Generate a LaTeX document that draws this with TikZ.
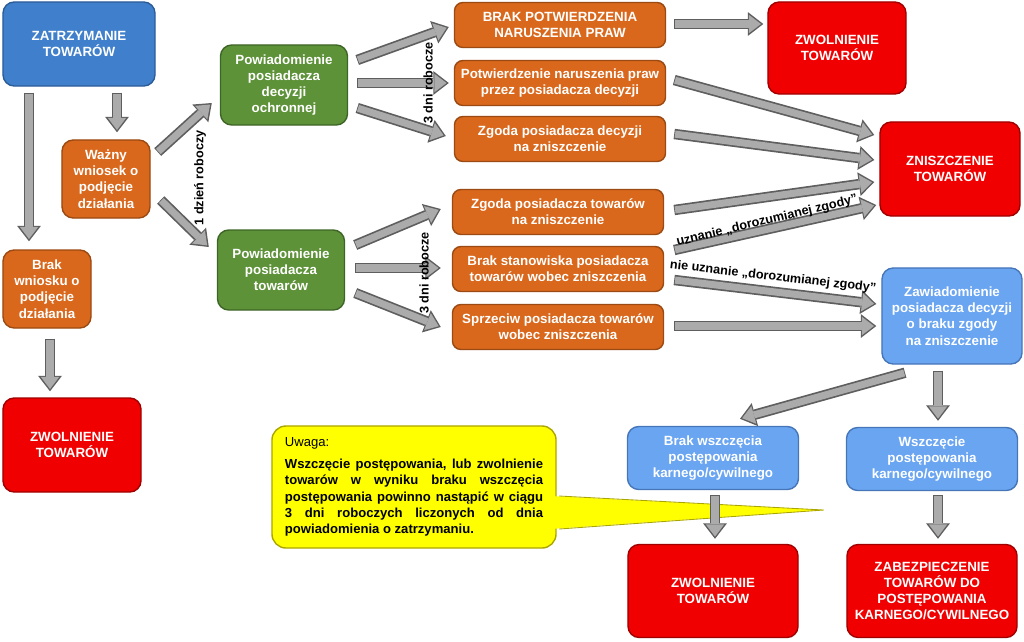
\documentclass[tikz,border=0pt]{standalone}
\usepackage{fontspec}
\setmainfont{Liberation Sans}
\usetikzlibrary{arrows.meta}
\definecolor{zblue}{HTML}{3F7FCB}
\definecolor{zbluedk}{HTML}{2C5C98}
\definecolor{zlight}{HTML}{6AA5F2}
\definecolor{zlightdk}{HTML}{4676B8}
\definecolor{zorange}{HTML}{D9681C}
\definecolor{zorangedk}{HTML}{9A4A12}
\definecolor{zgreen}{HTML}{5E9239}
\definecolor{zgreendk}{HTML}{3D6526}
\definecolor{zred}{HTML}{F00000}
\definecolor{zreddk}{HTML}{A00000}
\definecolor{zyellow}{HTML}{FFFF00}
\definecolor{zyellowdk}{HTML}{ABA500}
\definecolor{zgrey}{HTML}{ABABAB}
\definecolor{zgreydk}{HTML}{5E5E5E}

\begin{document}
\begin{tikzpicture}[x=0.025cm,y=-0.025cm,
  box/.style={rounded corners=8pt,line width=1pt,align=center,text=white,
    font=\bfseries\fontsize{9.5}{11.5}\selectfont,inner sep=2pt},
  bluebox/.style={box,fill=zblue,draw=zbluedk},
  lightbox/.style={box,fill=zlight,draw=zlightdk},
  orangebox/.style={box,fill=zorange,draw=zorangedk},
  greenbox/.style={box,fill=zgreen,draw=zgreendk},
  redbox/.style={box,fill=zred,draw=zreddk},
  widebox/.style={orangebox,rounded corners=6pt,minimum width=5.275cm,minimum height=1.125cm},
  smallbox/.style={orangebox,minimum width=2.2cm,minimum height=1.95cm},
  garrow/.style={
    preaction={draw=zgreydk,line width=7.4pt,shorten >=0pt,shorten <=0pt,
      -{Triangle[length=11pt,width=17pt,line width=0pt]}},
    draw=zgrey,line width=5pt,shorten >=1.6pt,shorten <=0.6pt,
    -{Triangle[length=8.6pt,width=13pt,line width=0pt]}},
  lab/.style={font=\bfseries\fontsize{9}{11}\selectfont,inner sep=1pt}]
  \useasboundingbox (0,0) rectangle (1024,641);

  % note with pointer
  \node[draw=zyellowdk,fill=zyellow,line width=1pt,rounded corners=10pt,
    minimum width=7.1cm,minimum height=3.05cm,text width=6.45cm,align=justify,
    font=\bfseries\fontsize{9.3}{11.5}\selectfont] (note) at (414,487)
    {{\mdseries Uwaga:}\\[4pt]
     Wszczęcie postępowania, lub zwolnienie\linebreak
     towarów w wyniku braku wszczęcia\linebreak
     postępowania powinno nastąpić w ciągu\linebreak
     3 dni roboczych liczonych od dnia\linebreak
     powiadomienia o zatrzymaniu.};
  \coordinate (wa) at ([shift={(-6,9)}]note.east);
  \coordinate (wtip) at ([shift={(267,23)}]note.east);
  \coordinate (wb) at ([shift={(-6,42)}]note.east);
  \fill[zyellow] (wa) -- (wtip) -- (wb) -- cycle;
  \draw[zyellowdk,line width=0.6pt] ([xshift=6]wa) -- (wtip) -- ([xshift=6]wb);

  % boxes
  \node[bluebox,minimum width=3.8cm,minimum height=2.1cm] (zt) at (79,44) {ZATRZYMANIE\\TOWARÓW};
  \node[smallbox] (wz) at (106,179) {Ważny\\wniosek o\\podjęcie\\działania};
  \node[smallbox] (bw) at (47,289) {Brak\\wniosku o\\podjęcie\\działania};
  \node[redbox,minimum width=3.45cm,minimum height=2.35cm] (zl) at (72,445) {ZWOLNIENIE\\TOWARÓW};

  \node[greenbox,minimum width=3.175cm,minimum height=2cm] (pd) at (284,85) {Powiadomienie\\posiadacza\\decyzji\\ochronnej};
  \node[greenbox,minimum width=3.175cm,minimum height=2cm] (pt) at (281,270) {Powiadomienie\\posiadacza\\towarów};

  \node[widebox] (bp) at (560,25) {BRAK POTWIERDZENIA\\NARUSZENIA PRAW};
  \node[widebox] (pn) at (560,83) {Potwierdzenie naruszenia praw\\przez posiadacza decyzji};
  \node[widebox] (zd) at (560,139) {Zgoda posiadacza decyzji\\na zniszczenie};
  \node[widebox] (zg) at (558,212) {Zgoda posiadacza towarów\\na zniszczenie};
  \node[widebox] (bs) at (558,269) {Brak stanowiska posiadacza\\towarów wobec zniszczenia};
  \node[widebox] (sp) at (558,327) {Sprzeciw posiadacza towarów\\wobec zniszczenia};

  \node[redbox,minimum width=3.45cm,minimum height=2.3cm] (zr) at (837,48) {ZWOLNIENIE\\TOWARÓW};
  \node[redbox,minimum width=3.5cm,minimum height=2.35cm] (zn) at (950,169) {ZNISZCZENIE\\TOWARÓW};
  \node[lightbox,minimum width=3.5cm,minimum height=2.4cm] (zw) at (952,316) {Zawiadomienie\\posiadacza decyzji\\o braku zgody\\na zniszczenie};

  \node[lightbox,minimum width=4.275cm,minimum height=1.575cm] (bk) at (713,458) {Brak wszczęcia\\postępowania\\karnego/cywilnego};
  \node[lightbox,minimum width=4.275cm,minimum height=1.575cm] (ws) at (932,459) {Wszczęcie\\postępowania\\karnego/cywilnego};
  \node[redbox,minimum width=4.25cm,minimum height=2.325cm] (zb) at (713,591) {ZWOLNIENIE\\TOWARÓW};
  \node[redbox,minimum width=4.25cm,minimum height=2.325cm] (zc) at (932,591) {ZABEZPIECZENIE\\TOWARÓW DO\\POSTĘPOWANIA\\KARNEGO/CYWILNEGO};

  % arrows
  \draw[garrow] ([shift={(38,6)}]zt.south) -- ([shift={(11,-7)}]wz.north);
  \draw[garrow] ([shift={(-50,6)}]zt.south) -- ([shift={(-18,-8)}]bw.north);
  \draw[garrow] ([shift={(7,-27)}]wz.east) -- ([shift={(-8,18)}]pd.west);
  \draw[garrow] ([shift={(10,21)}]wz.east) -- ([shift={(-8,-23)}]pt.west);
  \draw[garrow] ([shift={(3,10)}]bw.south) -- ([shift={(-22,-6)}]zl.north);

  \draw[garrow] ([shift={(9,-25)}]pd.east) -- ([shift={(-5,2)}]bp.west);
  \draw[garrow] ([shift={(9,-2)}]pd.east) -- ([shift={(-5,0)}]pn.west);
  \draw[garrow] ([shift={(9,23)}]pd.east) -- ([shift={(-8,-3)}]zd.west);
  \draw[garrow] ([shift={(10,-25)}]pt.east) -- ([shift={(-11,-3)}]zg.west);
  \draw[garrow] ([shift={(10,-2)}]pt.east) -- ([shift={(-11,-1)}]bs.west);
  \draw[garrow] ([shift={(10,23)}]pt.east) -- ([shift={(-11,0)}]sp.west);

  \draw[garrow] ([shift={(8,-1)}]bp.east) -- ([shift={(-4,-24)}]zr.west);
  \draw[garrow] ([shift={(8,-3)}]pn.east) -- ([shift={(-5,-34)}]zn.west);
  \draw[garrow] ([shift={(8,-5)}]zd.east) -- ([shift={(-5,-9)}]zn.west);
  \draw[garrow] ([shift={(10,-2)}]zg.east) -- ([shift={(-5,13)}]zn.west);
  \draw[garrow] ([shift={(10,-19)}]bs.east) -- ([shift={(-3,36)}]zn.west);
  \draw[garrow] ([shift={(10,11)}]bs.east) -- ([shift={(-5,-12)}]zw.west);
  \draw[garrow] ([shift={(10,-1)}]sp.east) -- ([shift={(-5,10)}]zw.west);

  \draw[garrow] ([shift={(-47,8)}]zw.south) -- ([shift={(27,-7)}]bk.north);
  \draw[garrow] ([shift={(-14,6)}]zw.south) -- ([shift={(6,-6)}]ws.north);
  \draw[garrow] ([shift={(2,5)}]bk.south) -- ([shift={(2,-5)}]zb.north);
  \draw[garrow] ([shift={(6,4)}]ws.south) -- ([shift={(6,-5)}]zc.north);

  % labels on arrows
  \node[lab,rotate=90] (l1) at (200,178) {1 dzień roboczy};
  \node[lab,rotate=90] (l2) at (428,83) {3 dni robocze};
  \node[lab,rotate=90] (l3) at (424,273) {3 dni robocze};
  \node[lab,rotate=13.5] (l4) at (767,221) {uznanie „dorozumianej zgody”};
  \node[lab,rotate=-6.6] (l5) at (773,277) {nie uznanie „dorozumianej zgody”};
\end{tikzpicture}
\end{document}
